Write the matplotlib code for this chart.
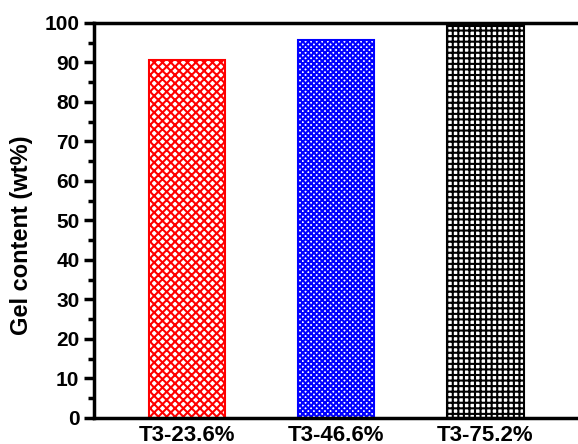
import matplotlib.pyplot as plt
from matplotlib.ticker import MultipleLocator

# Data
samples = ["T3-23.6%", "T3-46.6%", "T3-75.2%"]
gel_content = [90.6, 95.7, 99.2]
colors = ["#ff0000", "#0000ff", "#000000"]
hatches = ["xxxx", "xxxxxx", "+++"]

plt.rcParams["font.family"] = ["Liberation Sans", "DejaVu Sans"]
plt.rcParams["font.weight"] = "bold"
plt.rcParams["hatch.linewidth"] = 1.5

fig = plt.figure(figsize=(5.78, 4.44), dpi=100)
ax = fig.add_axes([0.1626, 0.0586, 0.8374, 0.8896])

x = range(len(samples))
for i, (val, c, h) in enumerate(zip(gel_content, colors, hatches)):
    ax.bar(i, val, width=0.51, facecolor="white", edgecolor=c, hatch=h, linewidth=1.5)

ax.set_xlim(-0.624, 2.62)
ax.set_ylim(0, 100)
ax.set_xticks(list(x))
ax.set_xticklabels(samples, fontsize=16, fontweight="bold")
ax.tick_params(axis="x", length=0, pad=5)

ax.yaxis.set_major_locator(MultipleLocator(10))
ax.yaxis.set_minor_locator(MultipleLocator(5))
ax.tick_params(axis="y", which="major", direction="out", length=7, width=2.5, labelsize=15)
ax.tick_params(axis="y", which="minor", direction="out", length=4, width=2.5)
for lab in ax.get_yticklabels():
    lab.set_fontweight("bold")

ax.set_ylabel("Gel content (wt%)", fontsize=17, fontweight="bold")
ax.yaxis.set_label_coords(-0.126, 0.463)

for side in ["left", "bottom", "top"]:
    ax.spines[side].set_linewidth(2.5)
ax.spines["right"].set_visible(False)

fig.savefig("out.png", dpi=100)
